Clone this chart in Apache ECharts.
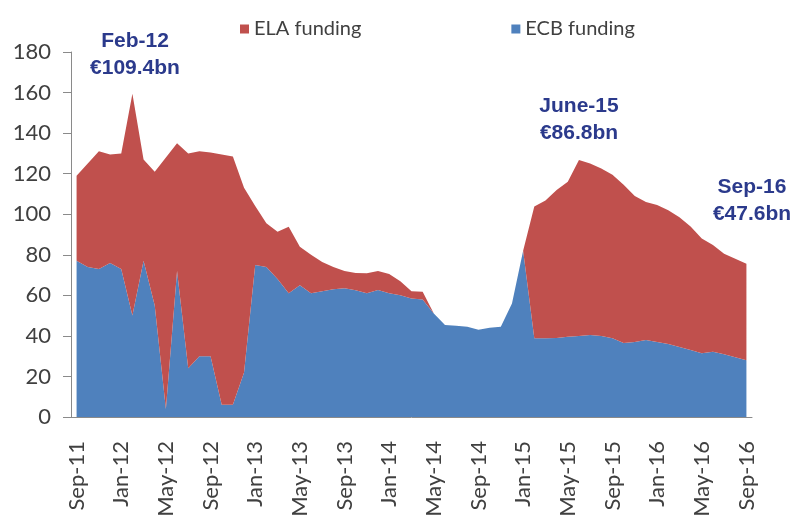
<!DOCTYPE html>
<html>
<head>
<meta charset="utf-8">
<script src="https://cdn.jsdelivr.net/npm/echarts@6/dist/echarts.min.js"></script>
<style>
  html, body { margin: 0; padding: 0; background: #fff; }
  #chart { width: 797px; height: 526px; }
</style>
</head>
<body>
<div id="chart"></div>
<script>
// monthly, Sep-11 .. Sep-16
const monthNames = ['Jan', 'Feb', 'Mar', 'Apr', 'May', 'Jun', 'Jul', 'Aug', 'Sep', 'Oct', 'Nov', 'Dec']
const months = []
for (let y = 11, m = 8; y < 16 || (y === 16 && m <= 8); m++) {
  if (m > 11) { m = 0; y++ }
  months.push(monthNames[m] + '-' + y)
}

// € bn
const ecbFunding = [
  77, 74, 73, 76, 73, 50, 77, 55, 4, 72, 24, 30,
  30, 6, 6, 22, 75, 74, 68, 61, 65, 61, 62, 63,
  63.5, 62.5, 61, 62.6, 61, 60, 58.5, 58, 51, 45.4, 45, 44.5,
  43, 44, 44.5, 56, 82, 38.8, 38.8, 39, 39.6, 40, 40.4, 40,
  38.8, 36.5, 37, 38, 37, 36, 34.5, 33, 31.4, 32.2, 31, 29.5,
  28
]
const elaFunding = [
  42, 51, 58, 53.5, 57, 109.4, 50, 66, 124, 63, 106, 101,
  100.5, 123.5, 122.5, 91, 29, 21.5, 23.4, 32.8, 19, 19, 14.5, 11,
  8.5, 8.5, 9.9, 9.4, 9.5, 7, 3.5, 3.8, 0, 0, 0, 0,
  0, 0, 0, 0, 0, 65, 68, 73, 76.4, 86.8, 84.6, 82.5,
  80.7, 78, 72, 68, 67.5, 66, 64, 61, 56.6, 52.6, 49.5, 48.5,
  47.6
]

const yTicks = { min: 0, max: 180, interval: 20 }

const notes = [
  { text: 'Feb-12\n€109.4bn', x: 135, y: 55 },
  { text: 'June-15\n€86.8bn', x: 579, y: 120 },
  { text: 'Sep-16\n€47.6bn', x: 752, y: 201 }
]

const RED = '#C0504D'
const BLUE = '#4F81BD'
const axisText = { color: '#404040', fontFamily: 'Lato', fontSize: 22 }

const chart = echarts.init(document.getElementById('chart'))
chart.setOption({
  animation: false,
  legend: {
    data: ['ELA funding', 'ECB funding'],
    left: 235,
    top: 14,
    itemWidth: 9,
    itemHeight: 9,
    itemGap: 150,
    icon: 'rect',
    textStyle: { color: '#404040', fontFamily: 'Lato', fontSize: 20, padding: [0, 0, 0, 0] }
  },
  grid: { left: 71, right: 45, top: 52, bottom: 109 },
  xAxis: {
    type: 'category',
    data: months,
    boundaryGap: true,
    axisLine: { lineStyle: { color: '#8a8a8a', width: 1 } },
    axisTick: { interval: 3, length: 8, lineStyle: { color: '#8a8a8a' } },
    axisLabel: { ...axisText, interval: 3, rotate: 90, margin: 24 }
  },
  yAxis: {
    type: 'value',
    ...yTicks,
    axisLine: { show: true, lineStyle: { color: '#8a8a8a', width: 1 } },
    axisTick: { show: true, length: 8, lineStyle: { color: '#8a8a8a' } },
    splitLine: { show: false },
    axisLabel: { ...axisText, margin: 20 }
  },
  series: [
    {
      name: 'ECB funding',
      type: 'line',
      stack: 'total',
      data: ecbFunding,
      symbol: 'none',
      lineStyle: { width: 0 },
      itemStyle: { color: BLUE },
      areaStyle: { color: BLUE, opacity: 1 }
    },
    {
      name: 'ELA funding',
      type: 'line',
      stack: 'total',
      data: elaFunding,
      symbol: 'none',
      lineStyle: { width: 0 },
      itemStyle: { color: RED },
      areaStyle: { color: RED, opacity: 1 }
    }
  ],
  graphic: notes.map(n => ({
    type: 'text',
    x: n.x,
    y: n.y,
    style: {
      text: n.text,
      fill: '#2B3A8C',
      font: 'bold 21px "Liberation Sans", Arial, sans-serif',
      align: 'center',
      verticalAlign: 'middle',
      lineHeight: 27
    }
  }))
})
</script>
</body>
</html>
